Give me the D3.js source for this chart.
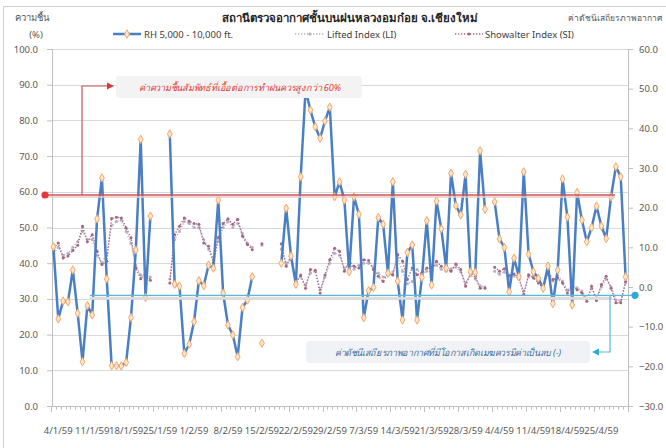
<!DOCTYPE html>
<html><head><meta charset="utf-8">
<script src="https://cdn.jsdelivr.net/npm/d3@7"></script>
<style>
body{margin:0;background:#fff;}
svg{display:block;}
text{font-family:"Noto Sans","DejaVu Sans",sans-serif;}
</style></head><body>
<svg id="c" width="666" height="448"></svg>
<script>
const dates = [
"3/1/59","4/1/59","5/1/59","6/1/59","7/1/59","8/1/59","9/1/59","10/1/59","11/1/59","12/1/59","13/1/59","14/1/59","15/1/59","16/1/59","17/1/59","18/1/59","19/1/59","20/1/59","21/1/59","22/1/59","23/1/59","24/1/59","25/1/59","26/1/59","27/1/59","28/1/59","29/1/59","30/1/59","31/1/59",
"1/2/59","2/2/59","3/2/59","4/2/59","5/2/59","6/2/59","7/2/59","8/2/59","9/2/59","10/2/59","11/2/59","12/2/59","13/2/59","14/2/59","15/2/59","16/2/59","17/2/59","18/2/59","19/2/59","20/2/59","21/2/59","22/2/59","23/2/59","24/2/59","25/2/59","26/2/59","27/2/59","28/2/59","29/2/59",
"1/3/59","2/3/59","3/3/59","4/3/59","5/3/59","6/3/59","7/3/59","8/3/59","9/3/59","10/3/59","11/3/59","12/3/59","13/3/59","14/3/59","15/3/59","16/3/59","17/3/59","18/3/59","19/3/59","20/3/59","21/3/59","22/3/59","23/3/59","24/3/59","25/3/59","26/3/59","27/3/59","28/3/59","29/3/59","30/3/59","31/3/59",
"1/4/59","2/4/59","3/4/59","4/4/59","5/4/59","6/4/59","7/4/59","8/4/59","9/4/59","10/4/59","11/4/59","12/4/59","13/4/59","14/4/59","15/4/59","16/4/59","17/4/59","18/4/59","19/4/59","20/4/59","21/4/59","22/4/59","23/4/59","24/4/59","25/4/59","26/4/59","27/4/59","28/4/59","29/4/59","30/4/59"
];
const tickLabels = ["4/1/59","11/1/59","18/1/59","25/1/59","1/2/59","8/2/59","15/2/59","22/2/59","29/2/59","7/3/59","14/3/59","21/3/59","28/3/59","4/4/59","11/4/59","18/4/59","25/4/59"];
const leftTicks = [0,10,20,30,40,50,60,70,80,90,100];
const rightTicks = [-30,-20,-10,0,10,20,30,40,50,60];

// RH 5,000 - 10,000 ft. (%)
const rh = [44.6,24.4,29.4,29.2,38.1,26.0,12.4,28.1,25.5,52.4,63.9,35.6,11.3,11.3,11.2,12.2,24.8,43.7,74.7,30.4,
53.2,null,null,null,76.2,34.1,33.6,14.7,17.3,23.6,35.1,33.7,39.5,38.6,57.7,31.6,22.7,19.9,13.8,27.6,
29.7,36.2,null,17.6,null,null,null,40.0,55.4,42.0,34.1,64.2,88.5,82.9,78.2,75.0,79.8,83.7,58.6,62.8,
57.7,37.6,58.6,53.7,24.7,32.3,33.2,52.8,50.9,37.2,62.8,35.0,24.1,43.0,45.1,24.1,36.0,51.9,33.9,57.4,
49.6,38.6,65.2,56.1,53.5,64.9,37.6,37.4,71.5,55.1,null,57.2,46.8,44.4,32.0,41.4,36.2,65.6,42.5,37.6,
35.8,33.0,39.2,28.7,38.1,63.6,52.9,28.3,59.8,52.1,46.0,50.0,56.0,50.4,46.9,58.6,67.0,64.2,36.2];
// Lifted Index (LI)
const li = [8.5,10.0,8.0,8.5,10.0,11.5,14.0,12.0,12.0,8.0,6.0,8.5,15.5,16.5,16.8,14.0,11.0,5.5,3.0,2.5,
2.5,null,null,null,2.0,12.0,14.0,16.5,16.0,15.0,15.0,12.0,9.5,7.0,11.5,15.0,16.5,15.0,16.0,13.5,
11.0,10.0,null,10.5,null,null,null,9.5,6.0,7.0,2.0,2.5,0.5,3.5,4.0,-0.5,2.5,6.0,8.5,8.0,
4.8,5.8,4.5,5.5,6.0,6.0,5.0,3.5,2.5,3.0,3.8,7.3,4.0,0.8,1.4,4.4,3.0,4.0,5.0,5.5,
4.5,4.0,4.6,5.0,3.8,1.0,3.0,2.0,0.3,0.0,null,4.0,3.2,3.8,2.2,2.8,2.0,-1.0,2.5,2.8,
1.5,0.3,3.2,1.5,2.8,1.5,-0.8,0.0,-0.2,-1.0,-2.8,-0.3,-2.8,0.0,2.0,0.0,-3.2,-3.5,1.0];
// Showalter Index (SI)
const si = [9.8,11.1,7.3,7.8,9.2,10.5,15.3,11.4,13.2,9.0,5.7,6.5,17.3,17.6,17.4,14.9,12.4,4.8,2.1,3.5,
1.7,null,null,null,1.0,13.2,15.3,17.4,16.6,16.0,15.8,11.1,10.3,6.1,12.5,16.0,17.2,15.8,17.1,12.8,
10.7,9.4,null,10.9,null,null,null,10.9,5.2,7.8,1.0,3.0,-0.3,4.4,4.2,-1.5,3.0,6.9,9.8,9.0,
4.0,6.5,5.2,4.8,6.9,6.7,4.4,2.7,1.4,3.5,3.0,8.2,6.5,1.9,4.8,3.1,3.5,4.8,4.4,6.5,
5.2,4.8,4.0,5.8,4.4,0.2,3.5,2.7,-0.3,-0.3,null,5.0,4.0,4.6,2.9,3.3,2.3,-1.8,3.1,2.3,
1.0,-0.3,4.0,1.9,2.3,1.0,-1.5,0.6,-0.7,-1.5,-3.6,0.2,-3.4,0.6,2.7,-0.3,-4.0,-4.0,1.4];

const rhThreshold = 59.1;
const siThreshold = -2.1;

const svg = d3.select("#c");
const L = 52, R = 628, T = 49, B = 406;
const x = d3.scaleBand().domain(dates).range([L - 1, R]).paddingInner(0).paddingOuter(0);
const cx = d => x(d) + x.bandwidth() / 2;
const yL = d3.scaleLinear().domain([0, 100]).range([B, T]);
const yR = d3.scaleLinear().domain([-30, 60]).range([B, T]);

// frame
svg.append("rect").attr("x", 3.5).attr("y", 6.5).attr("width", 720).attr("height", 520)
  .attr("fill", "none").attr("stroke", "#d0d0d0");

// gridlines
svg.append("g").selectAll("line").data(leftTicks.filter(v => v > 0)).join("line")
  .attr("x1", L).attr("x2", R).attr("y1", d => Math.round(yL(d)) + 0.5).attr("y2", d => Math.round(yL(d)) + 0.5)
  .attr("stroke", "#d9d9d9").attr("stroke-width", 1);

// left axis
const gl = svg.append("g").attr("transform", `translate(${L},0)`)
  .call(d3.axisLeft(yL).tickValues(leftTicks).tickFormat(d3.format(".1f")).tickSize(5).tickPadding(9));
// right axis
const gr = svg.append("g").attr("transform", `translate(${R},0)`)
  .call(d3.axisRight(yR).tickValues(rightTicks).tickFormat(d3.format(".1f")).tickSize(5).tickPadding(6));
[gl, gr].forEach(g => {
  g.select(".domain").attr("stroke", "#bfbfbf");
  g.selectAll(".tick line").attr("stroke", "#bfbfbf");
  g.selectAll(".tick text").attr("fill", "#595959").style("font-size", "9.5px")
    .style("font-family", "'Noto Sans',sans-serif");
});

// x axis
const gx = svg.append("g").attr("transform", `translate(0,${B})`);
gx.append("line").attr("x1", L).attr("x2", R).attr("y1", 0.5).attr("y2", 0.5).attr("stroke", "#bfbfbf");
gx.selectAll("line.t").data(d3.range(dates.length + 1)).join("line").attr("class", "t")
  .attr("x1", i => Math.round(L - 1 + i * x.bandwidth()) + 0.5)
  .attr("x2", i => Math.round(L - 1 + i * x.bandwidth()) + 0.5)
  .attr("y1", 0.5).attr("y2", i => i % 7 === 0 ? 6 : 3.5)
  .attr("stroke", "#bfbfbf");
gx.selectAll("text").data(tickLabels).join("text")
  .attr("x", d => cx(d)).attr("y", 28).attr("text-anchor", "middle")
  .attr("fill", "#595959").style("font-size", "9.5px").text(d => d);

// series
const idx = d3.range(dates.length);
function dotted(vals, color) {
  const line = d3.line().defined(i => vals[i] != null).x(i => cx(dates[i])).y(i => yR(vals[i]));
  svg.append("path").datum(idx).attr("d", line).attr("fill", "none")
    .attr("stroke", color).attr("stroke-width", 1.4).attr("stroke-dasharray", "1.3,1.7");
  svg.append("g").selectAll("circle").data(idx.filter(i => vals[i] != null)).join("circle")
    .attr("cx", i => cx(dates[i])).attr("cy", i => yR(vals[i])).attr("r", 1.5).attr("fill", color);
}
dotted(li, "#b7aec6");
dotted(si, "#a5667f");

const rhLine = d3.line().defined(i => rh[i] != null).x(i => cx(dates[i])).y(i => yL(rh[i]));
svg.append("path").datum(idx).attr("d", rhLine).attr("fill", "none")
  .attr("stroke", "#4a7fc4").attr("stroke-width", 2.5).attr("stroke-linejoin", "round");
const diamond = d3.symbol().type(d3.symbolDiamond).size(20);
svg.append("g").selectAll("path").data(idx.filter(i => rh[i] != null)).join("path")
  .attr("transform", i => `translate(${cx(dates[i])},${yL(rh[i])})`).attr("d", diamond)
  .attr("fill", "#fde4cc").attr("stroke", "#f0a868").attr("stroke-width", 1);

// annotations: RH threshold
const yT = yL(rhThreshold);
svg.append("line").attr("x1", 45).attr("x2", 615).attr("y1", yT + 2).attr("y2", yT + 2)
  .attr("stroke", "#ecc8c8").attr("stroke-width", 1.6);
svg.append("line").attr("x1", 45).attr("x2", 615).attr("y1", yT).attr("y2", yT)
  .attr("stroke", "#c8575a").attr("stroke-width", 1.3);
svg.append("circle").attr("cx", 45).attr("cy", yT).attr("r", 3.6).attr("fill", "#e0393e");
svg.append("path").attr("d", `M82,${yT} V86 H108`).attr("fill", "none").attr("stroke", "#c8575a").attr("stroke-width", 1.2);
svg.append("path").attr("d", "M107,82.5 L114,86 L107,89.5 Z").attr("fill", "#d9383d");
svg.append("rect").attr("x", 116).attr("y", 76).attr("width", 246).attr("height", 22).attr("rx", 3)
  .attr("fill", "#f3f3f3");
svg.append("text").attr("x", 139).attr("y", 91).attr("fill", "#e23b3b").style("font-size", "9.5px")
  .style("font-style", "italic").attr("textLength", 202).attr("lengthAdjust", "spacingAndGlyphs")
  .text("ค่าความชื้นสัมพัทธ์ที่เอื้อต่อการทำฝนควรสูงกว่า 60%");

// annotations: stability threshold
const yS = yR(siThreshold);
svg.append("line").attr("x1", 90).attr("x2", 612).attr("y1", yS + 3).attr("y2", yS + 3)
  .attr("stroke", "#dcdcdc").attr("stroke-width", 3);
svg.append("line").attr("x1", 90).attr("x2", 635).attr("y1", yS).attr("y2", yS)
  .attr("stroke", "#5bb8d6").attr("stroke-width", 1.2);
svg.append("circle").attr("cx", 635).attr("cy", yS).attr("r", 3.6).attr("fill", "#31a9d8");
svg.append("path").attr("d", `M610,${yS} V352 H598`).attr("fill", "none").attr("stroke", "#5bb8d6").attr("stroke-width", 1.2);
svg.append("path").attr("d", "M599,348.5 L592,352 L599,355.5 Z").attr("fill", "#31a9d8");
svg.append("rect").attr("x", 306).attr("y", 341).attr("width", 284).attr("height", 22).attr("rx", 3)
  .attr("fill", "#f0f2f5");
svg.append("text").attr("x", 335).attr("y", 356).attr("fill", "#3d6d9e").style("font-size", "9.5px")
  .style("font-style", "italic").attr("textLength", 226).attr("lengthAdjust", "spacingAndGlyphs")
  .text("ค่าดัชนีเสถียรภาพอากาศที่มีโอกาสเกิดเมฆควรมีค่าเป็นลบ (-)");

// titles
svg.append("text").attr("x", 350).attr("y", 22).attr("text-anchor", "middle").attr("fill", "#262626")
  .style("font-size", "11.5px").style("font-weight", "bold").text("สถานีตรวจอากาศชั้นบนฝนหลวงอมก๋อย จ.เชียงใหม่");
svg.append("text").attr("x", 15).attr("y", 21).attr("fill", "#595959").style("font-size", "9.5px").text("ความชื้น");
svg.append("text").attr("x", 36).attr("y", 38).attr("text-anchor", "middle").attr("fill", "#595959").style("font-size", "9.5px").text("(%)");
svg.append("text").attr("x", 662).attr("y", 21).attr("text-anchor", "end").attr("fill", "#595959").style("font-size", "8.5px")
  .text("ค่าดัชนีเสถียรภาพอากาศ");

// legend
const lg = svg.append("g").style("font-size", "9.5px");
lg.append("line").attr("x1", 113).attr("x2", 141).attr("y1", 34).attr("y2", 34).attr("stroke", "#4a7fc4").attr("stroke-width", 2.5);
lg.append("path").attr("transform", "translate(127,34)").attr("d", diamond).attr("fill", "#fde4cc").attr("stroke", "#f0a868");
lg.append("text").attr("x", 144).attr("y", 37.5).attr("fill", "#404040").text("RH 5,000 - 10,000 ft.");
lg.append("line").attr("x1", 295).attr("x2", 324).attr("y1", 34).attr("y2", 34).attr("stroke", "#b7aec6").attr("stroke-width", 1.4).attr("stroke-dasharray", "1.3,1.7");
lg.append("circle").attr("cx", 310).attr("cy", 34).attr("r", 1.6).attr("fill", "#b7aec6");
lg.append("text").attr("x", 327).attr("y", 37.5).attr("fill", "#404040").text("Lifted Index (LI)");
lg.append("line").attr("x1", 455).attr("x2", 483).attr("y1", 34).attr("y2", 34).attr("stroke", "#a5667f").attr("stroke-width", 1.4).attr("stroke-dasharray", "1.3,1.7");
lg.append("circle").attr("cx", 469).attr("cy", 34).attr("r", 1.6).attr("fill", "#a5667f");
lg.append("text").attr("x", 485).attr("y", 37.5).attr("fill", "#404040").text("Showalter Index (SI)");
</script>
</body></html>
